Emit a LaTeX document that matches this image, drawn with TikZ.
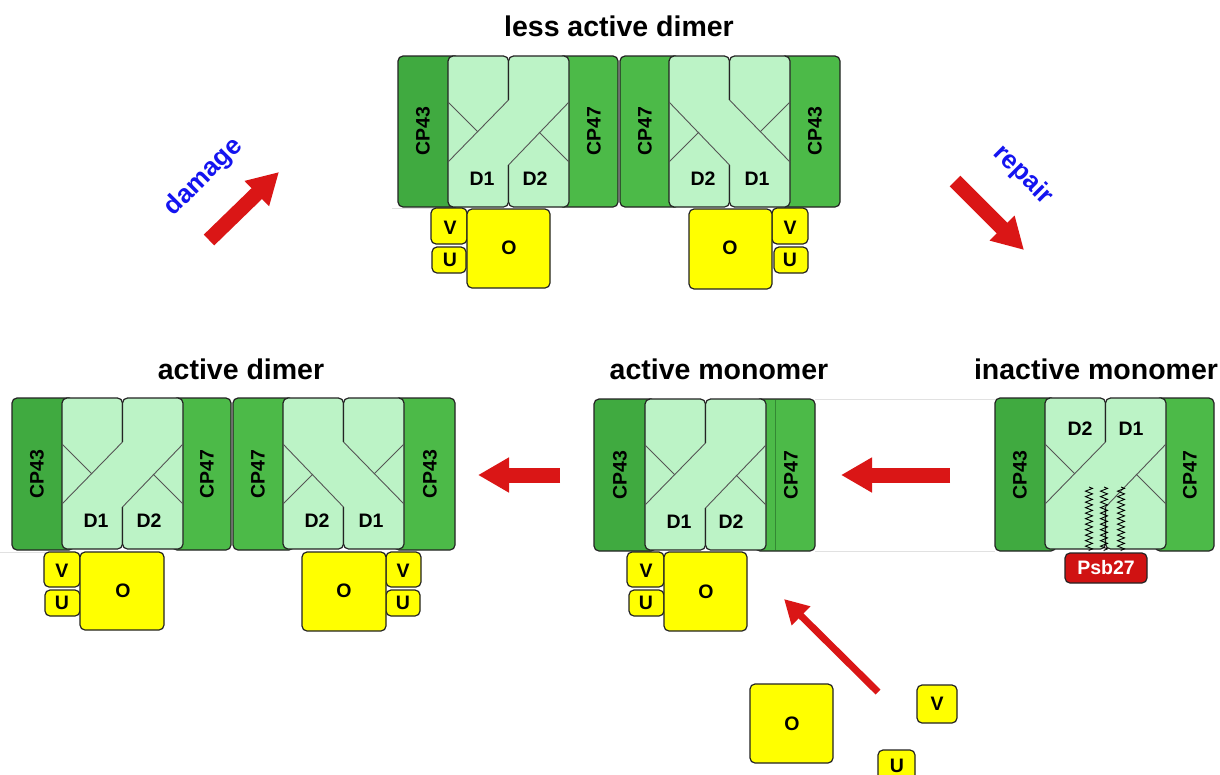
\documentclass[tikz,border=0pt]{standalone}
\usepackage{fontspec}
\setmainfont{Liberation Sans}
\usetikzlibrary{arrows.meta,decorations.pathmorphing}
\definecolor{cpA}{RGB}{64,170,64}
\definecolor{cpB}{RGB}{76,186,72}
\definecolor{dlight}{RGB}{188,243,198}
\definecolor{yel}{RGB}{255,255,0}
\definecolor{outl}{RGB}{35,35,35}
\definecolor{inl}{RGB}{85,85,85}
\definecolor{arrred}{RGB}{218,22,22}
\definecolor{txtblue}{RGB}{20,20,240}
\definecolor{psbred}{RGB}{208,18,18}
\definecolor{faint}{RGB}{225,225,225}
\tikzset{
  cpboxA/.style={fill=cpA, draw=outl, line width=1.2pt, rounded corners=5pt},
  cpboxB/.style={fill=cpB, draw=outl, line width=1.2pt, rounded corners=5pt},
  dbox/.style={fill=dlight, draw=outl, line width=1.2pt, rounded corners=5pt},
  ybox/.style={fill=yel, draw=outl, line width=1.2pt, rounded corners=5pt},
  inner/.style={draw=inl, line width=0.9pt},
  lbl/.style={font=\fontsize{19.5}{21}\selectfont\bfseries, text=black, inner sep=0pt},
  cplbl/.style={lbl, rotate=90},
  ttl/.style={font=\fontsize{28.5}{31}\selectfont\bfseries, anchor=base, inner sep=0pt},
  side/.style={font=\fontsize{26}{28}\selectfont\bfseries, text=txtblue, inner sep=0pt},
  barrow/.style={draw=arrred, line width=15pt, -{Triangle[length=31pt,width=33pt]}},
  thinarrow/.style={draw=arrred, line width=7pt, -{Triangle[length=24pt,width=25pt]}},
  zz/.style={draw=black, line width=0.9pt, decorate, decoration={zigzag, segment length=5.5pt, amplitude=3.5pt}},
  faintline/.style={draw=faint, line width=1pt},
}
% D block, type A (top divider turns down-left)
\newcommand{\dblkA}[2]{%
  \draw[dbox] (#1,#2) rectangle ({#1+60.5},{#2+151});
  \draw[dbox] ({#1+60.5},#2) rectangle ({#1+121},{#2+151});
  \fill[dlight] ({#1+59},{#2+44}) rectangle ({#1+62},{#2+109});
  \draw[inner] ({#1+60.5},{#2+44}) -- (#1,{#2+106});
  \draw[inner] (#1,{#2+46}) -- ({#1+30},{#2+76});
  \draw[inner] ({#1+60.5},{#2+109}) -- ({#1+121},{#2+46});
  \draw[inner] ({#1+121},{#2+106}) -- ({#1+91},{#2+76});
}
% D block, type B (mirror image)
\newcommand{\dblkB}[2]{%
  \draw[dbox] (#1,#2) rectangle ({#1+60.5},{#2+151});
  \draw[dbox] ({#1+60.5},#2) rectangle ({#1+121},{#2+151});
  \fill[dlight] ({#1+59},{#2+44}) rectangle ({#1+62},{#2+109});
  \draw[inner] ({#1+60.5},{#2+44}) -- ({#1+121},{#2+106});
  \draw[inner] ({#1+121},{#2+46}) -- ({#1+91},{#2+76});
  \draw[inner] ({#1+60.5},{#2+109}) -- (#1,{#2+46});
  \draw[inner] (#1,{#2+106}) -- ({#1+30},{#2+76});
}
\begin{document}
\begin{tikzpicture}[x=1pt,y=-1pt]
\useasboundingbox (0,0) rectangle (1220,774);
\fill[white] (0,0) rectangle (1220,774);
\clip (0,0) rectangle (1220,774);

% faint guide lines
\draw[faintline] (392,208) -- (432,208);
\draw[faintline] (0,552) -- (45,552);
\draw[faintline] (815,399) -- (995,399);
\draw[faintline] (815,551) -- (995,551);

% ---------- titles ----------
\node[ttl] (t1) at (619,36) {less active dimer};
\node[ttl] (t2) at (241,379) {active dimer};
\node[ttl] (t3) at (719,379) {active monomer};
\node[ttl] (t4) at (1096,379) {inactive monomer};

% ---------- less active dimer ----------
\draw[cpboxA] (398,56) rectangle (460,207);
\draw[cpboxB] (558,56) rectangle (618,207);
\dblkA{448}{56}
\draw[cpboxB] (620,56) rectangle (680,207);
\draw[cpboxB] (780,56) rectangle (840,207);
\dblkB{669}{56}
\node[cplbl] (a43) at (423,131) {CP43};
\node[cplbl] (a47) at (594,131) {CP47};
\node[cplbl] (b47) at (645,131) {CP47};
\node[cplbl] (b43) at (815,131) {CP43};
\node[lbl] (ad1) at (482,179) {D1};
\node[lbl] (ad2) at (535,179) {D2};
\node[lbl] (bd2) at (703,179) {D2};
\node[lbl] (bd1) at (757,179) {D1};
\draw[ybox] (431,208) rectangle (467,244);
\draw[ybox] (432,247) rectangle (466,273);
\draw[ybox] (467,209) rectangle (550,288);
\node[lbl] (av) at (450,228) {V};
\node[lbl] (au) at (450,260) {U};
\node[lbl] (ao) at (509,248) {O};
\draw[ybox] (772,208) rectangle (808,244);
\draw[ybox] (774,247) rectangle (808,273);
\draw[ybox] (689,209) rectangle (772,289);
\node[lbl] (bv) at (790,228) {V};
\node[lbl] (bu) at (790,260) {U};
\node[lbl] (bo) at (730,248) {O};

% ---------- active dimer ----------
\draw[cpboxA] (12,398) rectangle (74,550);
\draw[cpboxB] (172,398) rectangle (231,550);
\dblkA{62}{398}
\draw[cpboxB] (233,398) rectangle (294,550);
\draw[cpboxB] (394,398) rectangle (455,550);
\dblkB{283}{398}
\node[cplbl] (c43) at (37,474) {CP43};
\node[cplbl] (c47) at (207,474) {CP47};
\node[cplbl] (d47) at (258,474) {CP47};
\node[cplbl] (d43) at (430,474) {CP43};
\node[lbl] (cd1) at (96,521) {D1};
\node[lbl] (cd2) at (149,521) {D2};
\node[lbl] (dd2) at (317,521) {D2};
\node[lbl] (dd1) at (371,521) {D1};
\draw[ybox] (44,552) rectangle (80,587);
\draw[ybox] (45,590) rectangle (80,616);
\draw[ybox] (80,552) rectangle (164,630);
\node[lbl] (cv) at (62,571) {V};
\node[lbl] (cu) at (62,603) {U};
\node[lbl] (co) at (123,591) {O};
\draw[ybox] (386,552) rectangle (421,587);
\draw[ybox] (386,590) rectangle (420,616);
\draw[ybox] (302,552) rectangle (386,631);
\node[lbl] (dv) at (403,571) {V};
\node[lbl] (du) at (403,603) {U};
\node[lbl] (do) at (344,591) {O};

% ---------- active monomer ----------
\draw[cpboxA] (594,399) rectangle (656,551);
\draw[cpboxB] (755,399) rectangle (815,551);
\draw[draw=cpA!80!black, line width=0.8pt] (775,400) -- (775,550);
\dblkA{645}{399}
\node[cplbl] (e43) at (620,475) {CP43};
\node[cplbl] (e47) at (791,475) {CP47};
\node[lbl] (ed1) at (679,522) {D1};
\node[lbl] (ed2) at (731,522) {D2};
\draw[ybox] (627,552) rectangle (664,587);
\draw[ybox] (629,590) rectangle (664,616);
\draw[ybox] (664,552) rectangle (747,631);
\node[lbl] (ev) at (646,571) {V};
\node[lbl] (eu) at (646,603) {U};
\node[lbl] (eo) at (706,592) {O};

% ---------- inactive monomer ----------
\draw[cpboxA] (995,398) rectangle (1056,551);
\draw[cpboxB] (1155,398) rectangle (1214,551);
\dblkA{1045}{398}
\node[cplbl] (f43) at (1020,475) {CP43};
\node[cplbl] (f47) at (1190,475) {CP47};
\node[lbl] (fd2) at (1080,429) {D2};
\node[lbl] (fd1) at (1131,429) {D1};
\draw[zz] (1089,487) -- (1089,551);
\draw[zz] (1104,487) -- (1104,551);
\draw[zz] (1121,487) -- (1121,551);
\draw[fill=psbred, draw=outl, line width=1.2pt, rounded corners=5pt] (1065,553) rectangle (1147,583);
\node[lbl, text=white] (psb) at (1106,568) {Psb27};

% ---------- free subunits ----------
\draw[ybox] (750,684) rectangle (833,763);
\node[lbl] (fo) at (792,724) {O};
\draw[ybox] (917,685) rectangle (957,723);
\node[lbl] (fv) at (937,704) {V};
\draw[ybox] (878,750) rectangle (915,792);
\node[lbl] (fu) at (897,766) {U};

% ---------- arrows ----------
\coordinate (dmgS) at (209,240);
\coordinate (dmgE) at (279,172);
\draw[barrow] (dmgS) -- (dmgE);
\coordinate (repS) at (955,181);
\coordinate (repE) at (1024,250);
\draw[barrow] (repS) -- (repE);
\coordinate (monS) at (950,475);
\coordinate (monE) at (841,475);
\draw[barrow] (monS) -- (monE);
\coordinate (dimS) at (560,475);
\coordinate (dimE) at (478,475);
\draw[barrow] (dimS) -- (dimE);
\coordinate (subS) at (878,692);
\coordinate (subE) at (784,599);
\draw[thinarrow] (subS) -- (subE);

\node[side, rotate=45] (dmg) at (204,177) {damage};
\node[side, rotate=-45] (rep) at (1023,175) {repair};
\end{tikzpicture}
\end{document}
